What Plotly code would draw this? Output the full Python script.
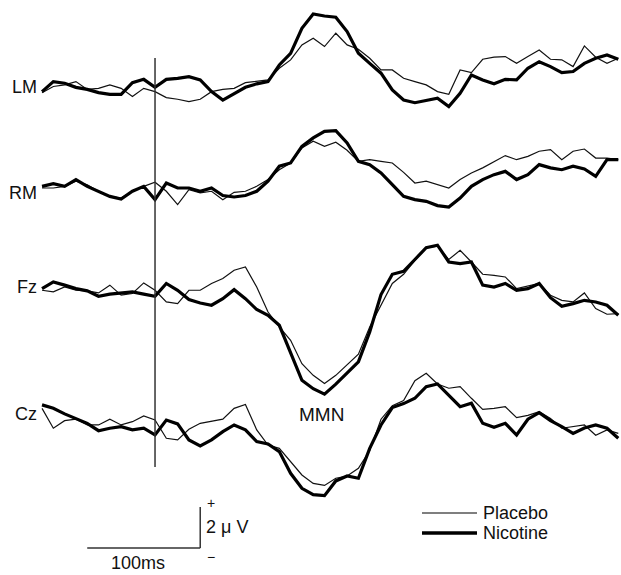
import plotly.graph_objects as go

# time axis (ms), one sample every 10 ms
T = list(range(-100, 420, 10))

CHANNELS = ["LM", "RM", "Fz", "Cz"]

# amplitudes in microvolts (positive up)
LM_placebo = [-0.23, 0.07, 0.15, 0.31, -0.07, -0.02, 0.15, -0.02, -0.42, -0.02,
              -0.18, -0.47, -0.55, -0.67, -0.55, -0.18, -0.07, -0.02, 0.26, 0.31,
              0.39, 0.96, 1.37, 2.10, 2.42, 2.02, 2.67, 2.10, 1.89, 1.45,
              0.88, 0.88, 0.47, 0.31, 0.15, -0.18, -0.31, 0.88, 0.75, 1.40,
              1.50, 1.53, 1.20, 1.53, 1.85, 1.40, 1.37, 1.04, 2.05, 1.50,
              1.20, 1.45]
LM_nicotine = [-0.18, 0.31, 0.23, 0.03, -0.07, -0.23, -0.31, -0.31, 0.26, 0.42,
               0.03, 0.42, 0.47, 0.55, 0.39, -0.18, -0.59, -0.26, 0.03, 0.20,
               0.31, 1.12, 1.69, 2.91, 3.61, 3.51, 3.45, 2.75, 1.69, 1.20,
               0.72, -0.10, -0.59, -0.72, -0.59, -0.50, -0.91, -0.26, 0.63, 0.39,
               0.20, 0.42, 0.39, 0.96, 1.28, 1.04, 0.75, 0.80, 1.20, 1.45,
               1.61, 1.40]

RM_placebo = [0.00, 0.00, 0.08, 0.33, 0.16, -0.16, -0.41, -0.49, -0.16, 0.08,
              0.28, -0.16, -0.81, -0.08, -0.24, -0.16, -0.57, -0.21, -0.16, 0.08,
              0.41, 0.89, 1.22, 1.95, 2.28, 2.03, 2.23, 1.84, 1.30, 1.38,
              1.30, 1.22, 0.76, 0.24, 0.33, 0.16, 0.00, 0.41, 0.73, 0.98,
              1.30, 1.58, 1.38, 1.54, 1.79, 1.87, 1.38, 1.79, 1.90, 1.46,
              1.46, 1.38]
RM_nicotine = [0.08, 0.21, 0.08, 0.41, 0.08, -0.16, -0.41, -0.54, -0.16, 0.08,
               -0.57, 0.24, 0.00, 0.00, -0.16, 0.00, -0.37, -0.44, -0.37, -0.16,
               0.33, 1.06, 1.22, 2.03, 2.44, 2.76, 2.80, 2.20, 1.30, 1.14,
               0.73, 0.16, -0.41, -0.57, -0.65, -0.86, -0.93, -0.49, 0.08, 0.41,
               0.65, 0.81, 0.41, 0.65, 1.14, 0.98, 0.89, 1.06, 0.93, 0.57,
               1.38, 1.38]

Fz_placebo = [0.08, 0.00, 0.24, 0.08, 0.05, -0.05, 0.33, -0.16, -0.08, 0.44,
              0.08, -0.49, -0.57, 0.08, 0.08, 0.41, 0.65, 1.06, 1.22, 0.24,
              -0.98, -1.71, -2.36, -3.50, -4.07, -4.47, -4.07, -3.53, -3.04, -1.71,
              -0.65, 0.41, 0.86, 1.54, 2.16, 2.23, 1.58, 2.03, 1.46, 0.86,
              0.81, 0.73, 0.16, 0.28, 0.41, -0.16, -0.41, -0.49, -0.05, -0.81,
              -1.09, -1.06]
Fz_nicotine = [0.16, 0.49, 0.33, 0.16, 0.05, -0.21, -0.11, -0.05, 0.00, -0.11,
               -0.21, 0.41, 0.08, -0.37, -0.54, -0.65, -0.33, 0.11, -0.33, -0.86,
               -1.14, -1.63, -2.93, -4.31, -4.72, -4.99, -4.50, -3.98, -3.41, -1.95,
               -0.13, 0.86, 1.00, 1.58, 2.16, 2.28, 1.46, 1.38, 1.46, 0.33,
               0.24, 0.41, 0.08, 0.16, 0.41, -0.28, -0.70, -0.57, -0.41, -0.49,
               -0.65, -1.14]

Cz_placebo = [0.81, -0.16, 0.21, 0.28, 0.00, 0.00, 0.28, 0.00, 0.16, 0.44,
              0.24, -0.65, -0.73, -0.21, 0.08, 0.18, 0.28, 0.81, 1.00, -0.24,
              -0.98, -1.14, -1.79, -2.44, -2.85, -2.95, -2.60, -2.49, -2.11, -1.25,
              0.28, 0.94, 1.19, 2.16, 2.52, 2.00, 1.79, 1.87, 1.30, 0.76,
              0.81, 0.89, 0.36, 0.47, 0.65, 0.31, -0.16, -0.08, 0.00, -0.50,
              -0.24, -0.41]
Cz_nicotine = [0.98, 0.81, 0.54, 0.33, 0.08, -0.28, -0.16, -0.08, -0.24, -0.16,
               -0.49, 0.24, 0.05, -0.73, -1.02, -0.73, -0.33, 0.00, -0.24, -0.81,
               -0.93, -1.30, -2.36, -3.09, -3.40, -3.45, -2.73, -2.49, -2.60, -1.14,
               0.00, 0.85, 1.04, 1.30, 1.87, 2.00, 1.46, 0.89, 1.06, 0.08,
               -0.11, 0.08, -0.49, 0.28, 0.60, 0.21, -0.08, -0.41, -0.15, 0.00,
               -0.16, -0.65]

PLACEBO = {"LM": LM_placebo, "RM": RM_placebo, "Fz": Fz_placebo, "Cz": Cz_placebo}
NICOTINE = {"LM": LM_nicotine, "RM": RM_nicotine, "Fz": Fz_nicotine, "Cz": Cz_nicotine}

# ---- layout / styling (positions) ----
W, H = 621, 575
BASE = {"LM": -4.29, "RM": -9.17, "Fz": -14.24, "Cz": -20.73}  # vertical stacking offsets
LABEL_Y = {"LM": 87, "RM": 193, "Fz": 287, "Cz": 414}           # label pixel rows
FONT = "Liberation Sans, Arial, Helvetica, sans-serif"
FS = 18

fig = go.Figure()
for ch in CHANNELS:
    fig.add_trace(go.Scatter(x=T, y=[BASE[ch] + v for v in PLACEBO[ch]], mode="lines",
                             line=dict(color="#111111", width=1.2), name="Placebo",
                             showlegend=False, hoverinfo="skip"))
    fig.add_trace(go.Scatter(x=T, y=[BASE[ch] + v for v in NICOTINE[ch]], mode="lines",
                             line=dict(color="#000000", width=3.2), name="Nicotine",
                             showlegend=False, hoverinfo="skip"))


def px(x, y):
    return x / W, 1 - y / H


ann = []
for ch in CHANNELS:
    x, y = px(39, LABEL_Y[ch])
    ann.append(dict(x=x, y=y, text=ch, xanchor="right", yanchor="middle"))
for text, xp, yp, xa, fs in [("MMN", 321, 414, "center", 19),
                             ("+", 211, 503, "center", 14),
                             ("2 \u03bc V", 204, 527, "left", FS),
                             ("\u2212", 211, 557, "center", 14),
                             ("100ms", 138, 563, "center", FS),
                             ("Placebo", 481, 513, "left", FS),
                             ("Nicotine", 481, 533, "left", FS)]:
    x, y = px(xp, yp)
    ann.append(dict(x=x, y=y, text=text, xanchor=xa, yanchor="middle",
                    font=dict(size=fs, family=FONT, color="#111")))
for a in ann:
    a.update(xref="paper", yref="paper", showarrow=False)
    a.setdefault("font", dict(size=FS, family=FONT, color="#111"))

shapes = [
    # stimulus onset marker
    dict(type="line", xref="x", yref="y", x0=0, x1=0, y0=-2.83, y1=-22.78,
         line=dict(color="#333", width=1.5)),
    # calibration: 100 ms and 2 uV
    dict(type="line", xref="x", yref="y", x0=-60, x1=40, y0=-26.73, y1=-26.73,
         line=dict(color="#333", width=1.5)),
    dict(type="line", xref="x", yref="y", x0=40, x1=40, y0=-26.73, y1=-24.73,
         line=dict(color="#333", width=1.5)),
]
# legend swatches
for yp, w in [(513, 1.2), (533, 3.6)]:
    x0, y0 = px(422, yp)
    x1, _ = px(477, yp)
    shapes.append(dict(type="line", xref="paper", yref="paper", x0=x0, x1=x1, y0=y0, y1=y0,
                       line=dict(color="#000", width=w)))

fig.update_layout(
    width=W, height=H, margin=dict(l=0, r=0, t=0, b=0),
    paper_bgcolor="white", plot_bgcolor="white",
    xaxis=dict(range=[-137.2, 412.4], visible=False, fixedrange=True),
    yaxis=dict(range=[-28.05, 0], visible=False, fixedrange=True),
    annotations=ann, shapes=shapes, showlegend=False,
    font=dict(family=FONT, size=FS, color="#111"),
)

fig.write_html(
    "out.html",
    config={"displayModeBar": False},
    post_script="document.body.style.margin='0';document.body.style.overflow='hidden';"
                "document.documentElement.style.overflow='hidden';",
)
